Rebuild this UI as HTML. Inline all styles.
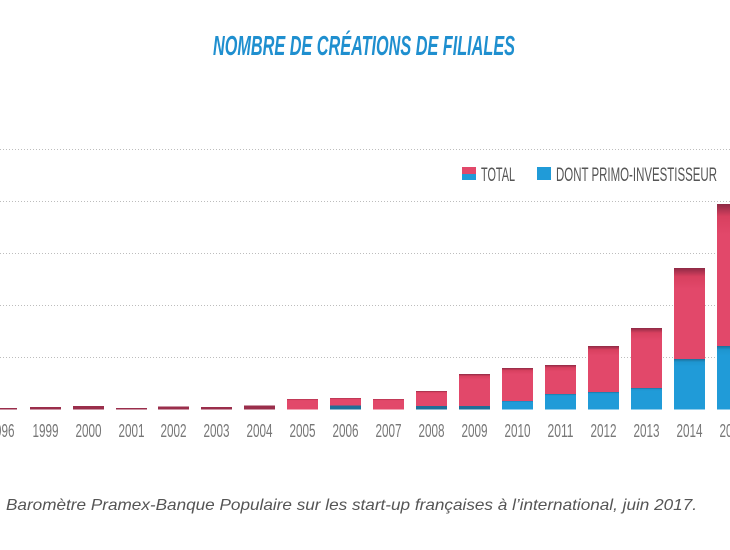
<!DOCTYPE html>
<html><head><meta charset="utf-8"><style>
html,body{margin:0;padding:0;background:#fff;}
body{width:730px;height:545px;overflow:hidden;}
</style></head><body>
<svg width="730" height="545" viewBox="0 0 730 545" xmlns="http://www.w3.org/2000/svg">
<defs>
<linearGradient id="rg" x1="0" y1="0" x2="0" y2="1">
<stop offset="0" stop-color="#8e2a45"/><stop offset="0.06" stop-color="#d8405f"/><stop offset="0.15" stop-color="#e2486a"/><stop offset="1" stop-color="#e2486a"/></linearGradient>
<linearGradient id="bg" x1="0" y1="0" x2="0" y2="1">
<stop offset="0" stop-color="#1c6f99"/><stop offset="0.06" stop-color="#1e95cf"/><stop offset="0.15" stop-color="#209bd8"/><stop offset="1" stop-color="#209bd8"/></linearGradient>
</defs>
<text x="213" y="55" font-family="Liberation Sans, sans-serif" font-style="italic" font-weight="bold" font-size="28" fill="#1f8fcf" textLength="302" lengthAdjust="spacingAndGlyphs">NOMBRE DE CRÉATIONS DE FILIALES</text>
<g stroke="#bdbdbd" stroke-width="1" stroke-dasharray="1 2">
<line x1="0" y1="149.5" x2="730" y2="149.5"/><line x1="0" y1="201.5" x2="730" y2="201.5"/>
<line x1="0" y1="253.5" x2="730" y2="253.5"/><line x1="0" y1="305.5" x2="730" y2="305.5"/>
<line x1="0" y1="357.5" x2="730" y2="357.5"/>
</g>
<rect x="448" y="160" width="282" height="30" fill="#fff"/>
<rect x="462" y="167" width="14" height="7" fill="#e2486a"/><rect x="462" y="174" width="14" height="6" fill="#209bd8"/>
<text x="481" y="181" font-family="Liberation Sans, sans-serif" font-size="19" fill="#555" textLength="34" lengthAdjust="spacingAndGlyphs">TOTAL</text>
<rect x="537" y="167" width="14" height="13" fill="#209bd8"/>
<text x="556" y="181" font-family="Liberation Sans, sans-serif" font-size="19" fill="#555" textLength="161" lengthAdjust="spacingAndGlyphs">DONT PRIMO-INVESTISSEUR</text>
<g id="bars"></g>
<g font-family="Liberation Sans, sans-serif" font-size="18" fill="#777" text-anchor="middle" id="labels"></g>
<text x="6" y="510" font-family="Liberation Sans, sans-serif" font-style="italic" font-size="16" fill="#555" textLength="691" lengthAdjust="spacingAndGlyphs">Baromètre Pramex-Banque Populaire sur les start-up françaises à l’international, juin 2017.</text>
</svg>
<script>
var d=[["1996",-14,408,409],["1999",30,407,409],["2000",73,406,409],["2001",116,408,409],["2002",158,406.5,409],["2003",201,407,409],["2004",244,405.5,409],["2005",287,399,409],["2006",330,398,405.5],["2007",373,399,409],["2008",416,391,406],["2009",459,374,406],["2010",502,368,401],["2011",545,365,394],["2012",588,346,392],["2013",631,328,388],["2014",674,268,359],["2015",717,204,346]];
var ns="http://www.w3.org/2000/svg",b=document.getElementById("bars"),l=document.getElementById("labels");
d.forEach(function(r){
 var x=r[1],w=31,base=409.5;
 var t=document.createElementNS(ns,"rect");t.setAttribute("x",x);t.setAttribute("y",r[2]);t.setAttribute("width",w);t.setAttribute("height",base-r[2]);
 t.setAttribute("fill",(base-r[2])<6?"#9a2e4b":"url(#rg)");b.appendChild(t);
 if(r[3]<409){var u=document.createElementNS(ns,"rect");u.setAttribute("x",x);u.setAttribute("y",r[3]);u.setAttribute("width",w);u.setAttribute("height",base-r[3]);u.setAttribute("fill",(base-r[3])<6?"#1e6f98":"url(#bg)");b.appendChild(u);}
 var s=document.createElementNS(ns,"text");s.setAttribute("x",x+15.5);s.setAttribute("y",437);s.setAttribute("textLength","26");s.setAttribute("lengthAdjust","spacingAndGlyphs");s.textContent=r[0];l.appendChild(s);
});
</script>
</body></html>
